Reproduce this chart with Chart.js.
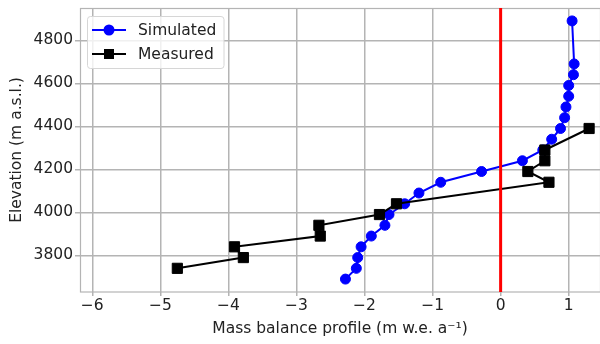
<!DOCTYPE html>
<html><head><meta charset="utf-8">
<script src="https://cdn.jsdelivr.net/npm/chart.js@4/dist/chart.umd.min.js"></script>
<style>html,body{margin:0;padding:0;background:#fff}#wrap{width:600px;height:344px;position:relative}</style>
</head><body><div id="wrap"><canvas id="c" width="600" height="344"></canvas></div>
<script>
// ---- data ----
const simElevation = [4890,4690,4640,4590,4540,4490,4440,4390,4340,4290,4240,4190,4140,4090,4040,3990,3940,3890,3840,3790,3740,3690];
const simMassBalance = [1.05,1.08,1.07,1.00,1.00,0.96,0.94,0.88,0.75,0.62,0.32,-0.28,-0.88,-1.20,-1.41,-1.64,-1.70,-1.90,-2.05,-2.10,-2.12,-2.28];
const measElevation = [4390,4290,4240,4190,4140,4040,3990,3940,3890,3840,3790,3740];
const measMassBalance = [1.30,0.65,0.65,0.40,0.71,-1.53,-1.78,-2.67,-2.65,-3.91,-3.78,-4.75];
const xTicks = [-6,-5,-4,-3,-2,-1,0,1];
const yTicks = [3800,4000,4200,4400,4600,4800];
const xRange = [-6.18, 1.46];
const yRange = [3630, 4950];
const zeroLineX = [0, 0];
const seriesNames = ['Simulated','Measured'];
const xTitle = 'Mass balance profile (m w.e. a\u207B\u00B9)';
const yTitle = 'Elevation (m a.s.l.)';

const FONT = 'DejaVu Sans';
const FS = 15.5;
const TXT = '#222';
const GRID = '#b4b4b4';

const pts = (xs, ys) => xs.map((x, i) => ({x: x, y: ys[i]}));

const framePlugin = {
  id: 'frame',
  beforeDatasetsDraw(chart) {
    const a = chart.chartArea, ctx = chart.ctx;
    ctx.save();
    ctx.strokeStyle = GRID;
    ctx.lineWidth = 1.2;
    ctx.strokeRect(a.left + 0.5, a.top + 0.5, a.right - a.left, a.bottom - a.top - 0.5);
    ctx.restore();
  }
};

const legendPlugin = {
  id: 'mplLegend',
  afterDraw(chart) {
    const ctx = chart.ctx;
    const x0 = 87.5, y0 = 16.5, w = 136.5, h = 52;
    ctx.save();
    ctx.fillStyle = 'rgba(255,255,255,0.8)';
    ctx.strokeStyle = '#d6d6d6';
    ctx.lineWidth = 1;
    ctx.beginPath();
    ctx.roundRect(x0, y0, w, h, 3);
    ctx.fill();
    ctx.stroke();
    const rows = [30, 54];
    [0, 1].forEach((di, i) => {
      const ds = chart.data.datasets[di];
      const y = rows[i];
      ctx.strokeStyle = ds.borderColor;
      ctx.lineWidth = 2;
      ctx.beginPath();
      ctx.moveTo(92, y); ctx.lineTo(126, y);
      ctx.stroke();
      ctx.fillStyle = ds.borderColor;
      if (ds.pointStyle === 'rect') {
        ctx.fillRect(109 - 5, y - 5, 10, 10);
      } else {
        ctx.beginPath(); ctx.arc(109, y, 5.5, 0, Math.PI * 2); ctx.fill();
      }
      ctx.fillStyle = TXT;
      ctx.font = '15.5px "' + FONT + '"';
      ctx.textBaseline = 'middle';
      ctx.textAlign = 'left';
      ctx.fillText(ds.label, 138, y + 1);
    });
    ctx.restore();
  }
};

const fmt = v => (v < 0 ? '\u2212' + Math.abs(v) : String(v));

new Chart(document.getElementById('c'), {
  type: 'scatter',
  data: {
    datasets: [
      {
        label: seriesNames[0],
        data: pts(simMassBalance, simElevation),
        showLine: true,
        borderColor: '#0000ff',
        backgroundColor: '#0000ff',
        borderWidth: 2,
        pointRadius: 5,
        pointBorderWidth: 1,
        pointStyle: 'circle',
        order: 2
      },
      {
        label: seriesNames[1],
        data: pts(measMassBalance, measElevation),
        showLine: true,
        borderColor: '#000000',
        backgroundColor: '#000000',
        borderWidth: 2,
        pointRadius: 7.2,
        pointBorderWidth: 1,
        pointStyle: 'rect',
        order: 1
      },
      {
        label: 'zero',
        data: pts(zeroLineX, yRange),
        showLine: true,
        borderColor: '#ff0000',
        borderWidth: 3,
        pointRadius: 0,
        order: 0
      }
    ]
  },
  options: {
    responsive: false,
    animation: false,
    devicePixelRatio: 1,
    layout: {autoPadding: false, padding: {top: 8, left: 0, right: 0, bottom: 0}},
    plugins: {legend: {display: false}, tooltip: {enabled: false}},
    scales: {
      x: {
        type: 'linear',
        min: xRange[0], max: xRange[1],
        afterBuildTicks: s => { s.ticks = xTicks.map(v => ({value: v})); },
        afterFit: s => { s.height = 52; s.paddingLeft = 0; s.paddingRight = 0; },
        border: {display: false},
        grid: {color: GRID, lineWidth: 1.5, tickLength: 4, tickColor: GRID},
        ticks: {font: {family: FONT, size: FS}, color: TXT, padding: 1, maxRotation: 0, autoSkip: false, callback: fmt},
        title: {display: true, text: xTitle, font: {family: FONT, size: FS}, color: TXT, padding: {top: 0, bottom: 6}}
      },
      y: {
        type: 'linear',
        min: yRange[0], max: yRange[1],
        afterBuildTicks: s => { s.ticks = yTicks.map(v => ({value: v})); },
        afterFit: s => { s.width = 80; s.paddingTop = 0; s.paddingBottom = 0; },
        border: {display: false},
        grid: {color: GRID, lineWidth: 1.5, tickLength: 5, tickColor: GRID},
        ticks: {font: {family: FONT, size: FS}, color: TXT, padding: 2, autoSkip: false, callback: v => String(v)},
        title: {display: true, text: yTitle, font: {family: FONT, size: FS}, color: TXT, padding: {top: 8, bottom: 0}}
      }
    }
  },
  plugins: [framePlugin, legendPlugin]
});
</script>
</body></html>
